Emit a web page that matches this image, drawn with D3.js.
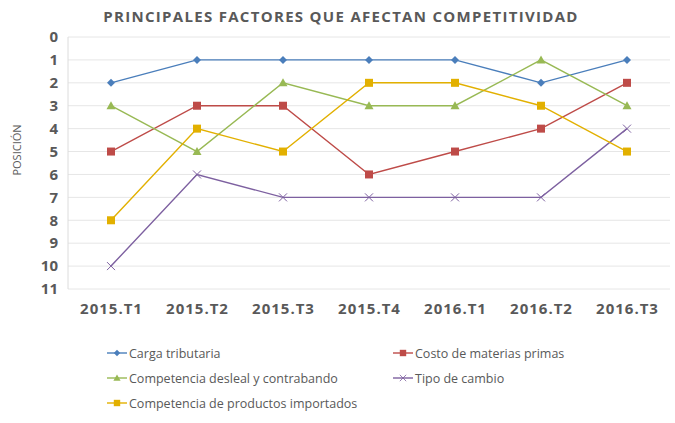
<!DOCTYPE html>
<html>
<head>
<meta charset="utf-8">
<script src="https://cdn.jsdelivr.net/npm/d3@7"></script>
<style>
  body { margin: 0; background: #fff; }
  text { font-family: "Open Sans", "Noto Sans", sans-serif; fill: #595959; }
</style>
</head>
<body>
<div id="chart"></div>
<script>
const categories = ['2015.T1', '2015.T2', '2015.T3', '2015.T4', '2016.T1', '2016.T2', '2016.T3'];
const yTicks = [0, 1, 2, 3, 4, 5, 6, 7, 8, 9, 10, 11];

const cargaTributaria = [2, 1, 1, 1, 1, 2, 1];
const costoMaterias = [5, 3, 3, 6, 5, 4, 2];
const competenciaDesleal = [3, 5, 2, 3, 3, 1, 3];
const tipoCambio = [10, 6, 7, 7, 7, 7, 4];
const productosImportados = [8, 4, 5, 2, 2, 3, 5];

const seriesNames = ['Carga tributaria', 'Costo de materias primas', 'Competencia desleal y contrabando',
  'Tipo de cambio', 'Competencia de productos importados'];

const series = [
  { name: seriesNames[0], values: cargaTributaria, color: '#4a7ebb', marker: 'diamond' },
  { name: seriesNames[1], values: costoMaterias, color: '#be4b48', marker: 'square' },
  { name: seriesNames[2], values: competenciaDesleal, color: '#98b954', marker: 'triangle' },
  { name: seriesNames[3], values: tipoCambio, color: '#7d60a0', marker: 'x' },
  { name: seriesNames[4], values: productosImportados, color: '#e2b000', marker: 'square' }
];

const width = 675;
const height = 423;
const plot = { left: 68, right: 670, top: 37, bottom: 289 };

const svg = d3.select('#chart').append('svg')
  .attr('width', width).attr('height', height);

const x = d3.scalePoint().domain(categories)
  .range([plot.left, plot.right]).padding(0.5);
const y = d3.scaleLinear().domain([0, 11]).range([plot.top, plot.bottom]);

// gridlines
svg.append('g').selectAll('line').data(yTicks).enter().append('line')
  .attr('x1', plot.left).attr('x2', plot.right)
  .attr('y1', d => y(d)).attr('y2', d => y(d))
  .attr('stroke', '#e6e6e6').attr('stroke-width', 1);

svg.append('line')
  .attr('x1', plot.left).attr('x2', plot.left)
  .attr('y1', plot.top).attr('y2', plot.bottom)
  .attr('stroke', '#dcdcdc');

// y axis
const yAxis = svg.append('g')
  .attr('transform', 'translate(' + plot.left + ',0)')
  .call(d3.axisLeft(y).tickValues(yTicks).tickSize(0).tickPadding(10));
yAxis.select('.domain').remove();
yAxis.selectAll('text')
  .style('font-size', '15px').style('font-weight', 'bold').attr('fill', '#595959');

// x axis
const xAxis = svg.append('g')
  .attr('transform', 'translate(0,' + plot.bottom + ')')
  .call(d3.axisBottom(x).tickSize(0).tickPadding(14));
xAxis.select('.domain').remove();
xAxis.selectAll('text')
  .style('font-size', '15px').style('font-weight', 'bold')
  .style('letter-spacing', '1px').attr('fill', '#595959');

// title
svg.append('text')
  .attr('x', 341).attr('y', 22)
  .attr('text-anchor', 'middle')
  .style('font-size', '15px').style('font-weight', 'bold')
  .style('letter-spacing', '1.3px')
  .text('PRINCIPALES FACTORES QUE AFECTAN COMPETITIVIDAD');

svg.append('text')
  .attr('transform', 'translate(21,150) rotate(-90)')
  .attr('text-anchor', 'middle')
  .style('font-size', '11px')
  .text('POSICIÓN');

function drawMarker(g, type, color) {
  if (type === 'diamond') {
    g.append('path').attr('d', 'M0,-4L4,0L0,4L-4,0Z').attr('fill', color);
  } else if (type === 'square') {
    g.append('rect').attr('x', -4).attr('y', -4).attr('width', 8).attr('height', 8).attr('fill', color);
  } else if (type === 'triangle') {
    g.append('path').attr('d', 'M0,-4.5L4.5,3.5L-4.5,3.5Z').attr('fill', color);
  } else if (type === 'x') {
    g.append('path').attr('d', 'M-4,-4L4,4M-4,4L4,-4')
      .attr('stroke', color).attr('stroke-width', 1).attr('fill', 'none');
  }
}

const line = d3.line()
  .x((d, i) => x(categories[i]))
  .y(d => y(d));

series.forEach(s => {
  const g = svg.append('g');
  g.append('path')
    .attr('d', line(s.values))
    .attr('fill', 'none')
    .attr('stroke', s.color)
    .attr('stroke-width', 1.4);
  s.values.forEach((v, i) => {
    const m = g.append('g').attr('transform', 'translate(' + x(categories[i]) + ',' + y(v) + ')');
    drawMarker(m, s.marker, s.color);
  });
});

// legend
const legendPos = [[107, 353], [393, 353], [107, 378], [393, 378], [107, 403]];
series.forEach((s, i) => {
  const g = svg.append('g').attr('transform', 'translate(' + legendPos[i][0] + ',' + legendPos[i][1] + ')');
  g.append('line').attr('x1', 0).attr('x2', 20).attr('y1', 0).attr('y2', 0)
    .attr('stroke', s.color).attr('stroke-width', 1.4);
  const m = g.append('g').attr('transform', 'translate(10,0) scale(0.8)');
  drawMarker(m, s.marker, s.color);
  g.append('text').attr('x', 22).attr('y', 4.5)
    .style('font-size', '12.5px')
    .text(s.name);
});
</script>
</body>
</html>
